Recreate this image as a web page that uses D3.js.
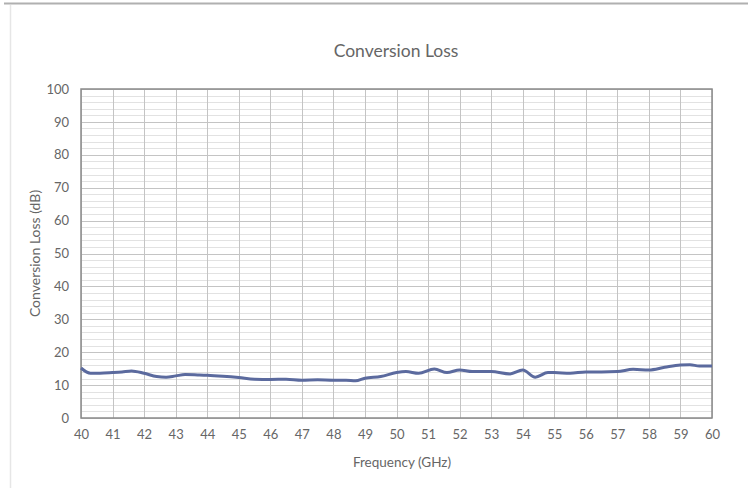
<!DOCTYPE html>
<html><head><meta charset="utf-8">
<script src="https://cdn.jsdelivr.net/npm/d3@7"></script>
<style>body{margin:0;background:#fff}svg{display:block}text{font-family:Lato,"Open Sans",sans-serif;fill:#666}</style>
</head><body><svg id="c" width="748" height="488"></svg>
<script>
const freqGHz = [40,40.3,40.6,41,41.3,41.6,42,42.4,42.7,43,43.3,43.7,44,44.5,45,45.5,46,46.5,47,47.5,48,48.4,48.7,49,49.5,50,50.3,50.7,51.2,51.6,52,52.4,53,53.6,54,54.4,54.8,55,55.5,56,56.5,57,57.5,58,58.5,59,59.3,59.6,60];
const lossDB = [15.2,13.6,13.6,13.8,14.0,14.3,13.6,12.6,12.4,12.8,13.2,13.1,13.0,12.7,12.3,11.8,11.7,11.8,11.5,11.6,11.5,11.5,11.3,12.1,12.6,13.8,14.1,13.6,14.9,13.8,14.6,14.1,14.1,13.4,14.6,12.4,13.8,13.8,13.6,14.0,14.0,14.1,14.8,14.6,15.4,16.1,16.2,15.8,15.8];
const xTicks = d3.range(40, 61, 1);
const yTicks = d3.range(0, 101, 10);
const yMinor = d3.range(0, 101, 2);

const svg = d3.select("#c");
// frame of the scanned page
svg.append("line").attr("x1",4).attr("x2",748).attr("y1",3.5).attr("y2",3.5).attr("stroke","#b0b0b0").attr("stroke-width",2);
svg.append("line").attr("x1",10.5).attr("x2",10.5).attr("y1",5).attr("y2",488).attr("stroke","#e6e6e6").attr("stroke-width",1.5);

const L=81,R=712,T=89,B=418;
const x = d3.scaleLinear().domain([40,60]).range([L,R]);
const y = d3.scaleLinear().domain([0,100]).range([B,T]);

const g = svg.append("g");
g.selectAll(".mn").data(yMinor.filter(v=>v%10!==0)).enter().append("line")
 .attr("x1",L).attr("x2",R).attr("y1",d=>Math.round(y(d))+0.5).attr("y2",d=>Math.round(y(d))+0.5)
 .attr("stroke","#e2e2e2").attr("stroke-width",1);
g.selectAll(".mj").data(yTicks).enter().append("line")
 .attr("x1",L).attr("x2",R).attr("y1",d=>Math.round(y(d))+0.5).attr("y2",d=>Math.round(y(d))+0.5)
 .attr("stroke","#c4c4c4").attr("stroke-width",1);
g.selectAll(".vx").data(xTicks).enter().append("line")
 .attr("y1",T).attr("y2",B).attr("x1",d=>Math.round(x(d))+0.5).attr("x2",d=>Math.round(x(d))+0.5)
 .attr("stroke","#c4c4c4").attr("stroke-width",1);
g.append("rect").attr("x",L).attr("y",T).attr("width",R-L).attr("height",B-T)
 .attr("fill","none").attr("stroke","#8a8a8a").attr("stroke-width",1.5);

// axes (labels only)
const xa = svg.append("g").attr("transform",`translate(0,${B})`).call(d3.axisBottom(x).tickValues(xTicks).tickFormat(d3.format("d")).tickSize(0).tickPadding(12));
const ya = svg.append("g").attr("transform",`translate(${L},0)`).call(d3.axisLeft(y).tickValues(yTicks).tickSize(0).tickPadding(12));
[xa,ya].forEach(a=>{a.select(".domain").remove();a.selectAll("text").attr("font-size",13).attr("font-family","Lato,'Open Sans',sans-serif").attr("fill","#666");});

const line = d3.line().x((d,i)=>x(freqGHz[i])).y(d=>y(d)).curve(d3.curveMonotoneX);
svg.append("path").datum(lossDB).attr("d",line).attr("fill","none").attr("stroke","#5b6a9e").attr("stroke-width",3).attr("stroke-linejoin","round");

svg.append("text").attr("x",396).attr("y",57).attr("text-anchor","middle").attr("font-size",17.5).text("Conversion Loss");
svg.append("text").attr("x",402).attr("y",467).attr("text-anchor","middle").attr("font-size",13.5).text("Frequency (GHz)");
svg.append("text").attr("transform",`translate(40,${(T+B)/2}) rotate(-90)`).attr("text-anchor","middle").attr("font-size",14).text("Conversion Loss (dB)");
</script></body></html>
